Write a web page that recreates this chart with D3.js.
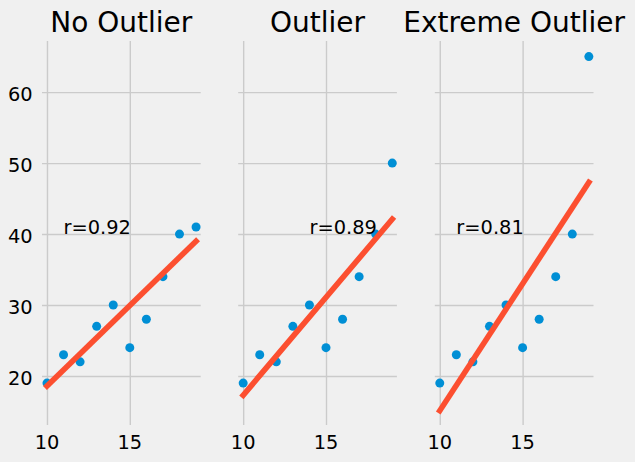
<!DOCTYPE html>
<html>
<head>
<meta charset="utf-8">
<script src="https://cdn.jsdelivr.net/npm/d3@7"></script>
<style>
  body { margin: 0; background: #f0f0f0; }
  svg { display: block; font-family: "DejaVu Sans", sans-serif; }
  .grid line { stroke: #cbcbcb; stroke-width: 1.4; }
</style>
</head>
<body>
<svg id="chart"></svg>
<script>
// shared x values and the three y series
const xValues = [10, 11, 12, 13, 14, 15, 16, 17, 18, 19];
const yNoOutlier = [19, 23, 22, 27, 30, 24, 28, 34, 40, 41];
const yOutlier = [19, 23, 22, 27, 30, 24, 28, 34, 40, 50];
const yExtreme = [19, 23, 22, 27, 30, 24, 28, 34, 40, 65];

const titles = ["No Outlier", "Outlier", "Extreme Outlier"];
const rLabels = ["r=0.92", "r=0.89", "r=0.81"];
const labelX = [11, 14, 11];
const labelY = [40, 40, 40];

const xTicks = [10, 15];
const yTicks = [20, 30, 40, 50, 60];

const series = [yNoOutlier, yOutlier, yExtreme];

const width = 635, height = 462;
const panelLeft = [42, 238.2, 434.8];
const panelW = 158.7;
const plotTop = 41, plotBottom = 425;

const svg = d3.select("#chart").attr("width", width).attr("height", height);
svg.append("rect").attr("width", width).attr("height", height).attr("fill", "#f0f0f0");

const yScale = d3.scaleLinear().domain([13.1, 67.2]).range([plotBottom, plotTop]);

// least squares fit
function fit(xs, ys) {
  const mx = d3.mean(xs), my = d3.mean(ys);
  const sxy = d3.sum(xs, (x, i) => (x - mx) * (ys[i] - my));
  const sxx = d3.sum(xs, (x) => (x - mx) * (x - mx));
  const b = sxy / sxx;
  return (x) => my + b * (x - mx);
}

series.forEach((ys, k) => {
  const xScale = d3.scaleLinear().domain([9.7, 19.28])
    .range([panelLeft[k], panelLeft[k] + panelW]);

  const g = svg.append("g");

  // gridlines via axes
  g.append("g").attr("class", "grid")
    .attr("transform", `translate(0,${plotBottom})`)
    .call(d3.axisBottom(xScale).tickValues(xTicks).tickSize(-(plotBottom - plotTop)).tickFormat(""))
    .call((s) => s.select(".domain").remove());

  g.append("g").attr("class", "grid")
    .attr("transform", `translate(${panelLeft[k]},0)`)
    .call(d3.axisLeft(yScale).tickValues(yTicks).tickSize(-panelW).tickFormat(""))
    .call((s) => s.select(".domain").remove());

  // tick labels
  g.selectAll(".xlab").data(xTicks).join("text")
    .attr("x", (d) => xScale(d))
    .attr("y", 449)
    .attr("text-anchor", "middle")
    .attr("font-size", "19.4px")
    .attr("fill", "#000")
    .text((d) => d);

  if (k === 0) {
    g.selectAll(".ylab").data(yTicks).join("text")
      .attr("x", panelLeft[k] - 9.3)
      .attr("y", (d) => yScale(d))
      .attr("dy", "0.45em")
      .attr("text-anchor", "end")
      .attr("font-size", "19.4px")
      .attr("fill", "#000")
      .text((d) => d);
  }

  // points
  g.selectAll("circle").data(xValues).join("circle")
    .attr("cx", (d) => xScale(d))
    .attr("cy", (d, i) => yScale(ys[i]))
    .attr("r", 4.5)
    .attr("fill", "#008fd5");

  // fit line
  const f = fit(xValues, ys);
  const xEnds = d3.extent(xValues);
  g.append("path")
    .datum(xEnds)
    .attr("d", d3.line().x((d) => xScale(d)).y((d) => yScale(f(d))))
    .attr("stroke", "#fc4f30")
    .attr("stroke-width", 5.6)
    .attr("stroke-linecap", "square")
    .attr("fill", "none");

  // r label
  g.append("text")
    .attr("x", xScale(labelX[k]))
    .attr("y", yScale(labelY[k]))
    .attr("font-size", "19.4px")
    .attr("fill", "#000")
    .text(rLabels[k]);

  // title
  g.append("text")
    .attr("x", panelLeft[k] + panelW / 2)
    .attr("y", 31.5)
    .attr("text-anchor", "middle")
    .attr("font-size", "28px")
    .attr("fill", "#000")
    .text(titles[k]);
});
</script>
</body>
</html>
